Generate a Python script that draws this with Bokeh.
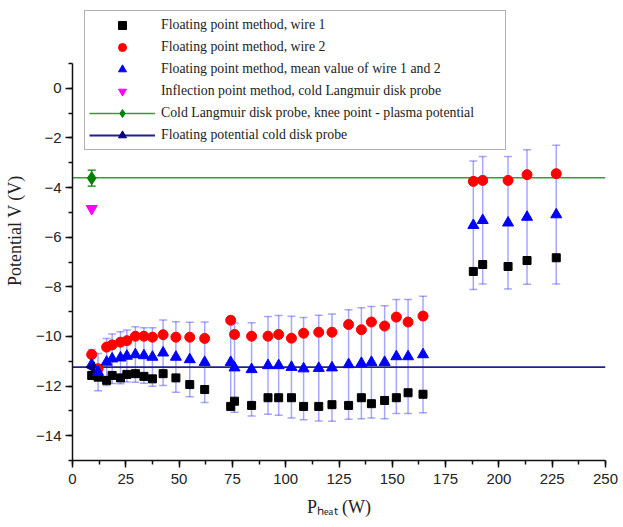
from bokeh.plotting import figure
from bokeh.models import (Legend, LegendItem, Whisker, ColumnDataSource,
                          SingleIntervalTicker, TeeHead, Range1d)
from bokeh.embed import file_html
from bokeh.resources import INLINE
import math

# ---------------- data ----------------
p_heat = [9, 12, 16, 18.6, 22.5, 25.5, 29.5, 33.5, 37.5, 42.5, 48.5, 55, 62,
          74.2, 76, 84, 91.7, 96.7, 102.7, 108.4, 115.5, 121.7, 129.5, 135.5,
          140.2, 146.4, 151.9, 157.4, 164.4,
          188, 192.4, 204.3, 213.2, 226.9]

wire1 = [-11.57, -11.64, -11.77, -11.57, -11.67, -11.53, -11.5, -11.61, -11.71,
         -11.5, -11.67, -11.94, -12.14,
         -12.82, -12.61, -12.78, -12.47, -12.47, -12.47, -12.82, -12.82, -12.75,
         -12.78, -12.47, -12.71, -12.58, -12.47, -12.27, -12.33,
         -7.38, -7.10, -7.18, -6.94, -6.83]

wire2 = [-10.73, -11.3, -10.43, -10.34, -10.23, -10.17, -9.99, -9.99, -10.03,
         -9.93, -10.03, -10.03, -10.08,
         -9.35, -9.92, -9.99, -9.99, -9.92, -10.07, -9.87, -9.83, -9.83, -9.52,
         -9.73, -9.42, -9.58, -9.22, -9.42, -9.18,
         -3.75, -3.71, -3.71, -3.48, -3.44]

mean12 = [-11.13, -11.44, -11.03, -10.9, -10.86, -10.79, -10.73, -10.77, -10.83,
          -10.66, -10.83, -10.93, -11.04,
          -11.04, -11.26, -11.33, -11.17, -11.17, -11.24, -11.3, -11.28, -11.26,
          -11.13, -11.08, -11.04, -11.04, -10.81, -10.81, -10.73,
          -5.52, -5.32, -5.42, -5.19, -5.09]

mean12_err = [0.6, 0.75, 0.95, 1.0, 1.05, 1.05, 1.12, 1.12, 1.18, 1.32, 1.42, 1.5, 1.62,
              1.84, 1.8, 1.88, 1.97, 2.01, 2.05, 2.06, 2.13, 2.16, 2.21, 2.24, 2.25,
              2.28, 2.3, 2.3, 2.35,
              2.59, 2.57, 2.67, 2.71, 2.8]

inflection_x = [9]
inflection_y = [-4.85]

knee_x = [9]
knee_y = [-3.62]
knee_err = [0.32]

float_disk_x = [9]
float_disk_y = [-11.24]

level_x = [0, 250]
plasma_potential = [-3.6, -3.6]
floating_potential = [-11.24, -11.24]

labels = ["Floating point method, wire 1",
          "Floating point method, wire 2",
          "Floating point method, mean value of wire 1 and 2",
          "Inflection point method, cold Langmuir disk probe",
          "Cold Langmuir disk probe, knee point - plasma potential",
          "Floating potential cold disk probe"]

x_title = "P\u2095\u2091\u2090\u209c (W)"
y_title = "Potential V (V)"

# ---------------- figure ----------------
# frame reaches the very top so the legend (which overlaps the area above
# the axis end) is not clipped; the axis itself is bounded to -15..1
p = figure(width=621, height=525, output_backend="svg", toolbar_location=None,
           x_range=Range1d(0, 250), y_range=Range1d(-15, 3.54),
           min_border_left=72, min_border_right=16,
           min_border_top=0, min_border_bottom=65)
p.background_fill_color = "white"
p.border_fill_color = "white"
p.outline_line_color = None
p.grid.visible = False

SERIF = "Liberation Serif"
SANS = "Liberation Sans"

# error bars of the mean series
err_src = ColumnDataSource(dict(
    x=p_heat,
    upper=[m + e for m, e in zip(mean12, mean12_err)],
    lower=[m - e for m, e in zip(mean12, mean12_err)]))
EB = "#0000ff"
wh = Whisker(source=err_src, base="x", upper="upper", lower="lower",
             line_color=EB, line_alpha=0.35, line_width=1.5, level="underlay",
             upper_head=TeeHead(size=8, line_color=EB, line_alpha=0.35, line_width=1.5),
             lower_head=TeeHead(size=8, line_color=EB, line_alpha=0.35, line_width=1.5))
p.add_layout(wh)

knee_src = ColumnDataSource(dict(
    x=knee_x,
    upper=[y + e for y, e in zip(knee_y, knee_err)],
    lower=[y - e for y, e in zip(knee_y, knee_err)]))
wk = Whisker(source=knee_src, base="x", upper="upper", lower="lower",
             line_color="#008000", line_width=1.2, level="underlay",
             upper_head=TeeHead(size=8, line_color="#008000", line_width=1.2),
             lower_head=TeeHead(size=8, line_color="#008000", line_width=1.2))
p.add_layout(wk)

# horizontal levels
l_green = p.line(level_x, plasma_potential, line_color="#3a9a3a", line_width=1.5)
l_navy = p.line(level_x, floating_potential, line_color="#20208f", line_width=1.8)

r_w1 = p.scatter(p_heat, wire1, marker="square", size=8,
                 fill_color="black", line_color="black")
r_w2 = p.scatter(p_heat, wire2, marker="circle", size=10,
                 fill_color="#ff0000", line_color="#ff0000")
r_mean = p.scatter(p_heat, mean12, marker="triangle", size=11,
                   fill_color="#0000ff", line_color="#0000ff")
r_infl = p.scatter(inflection_x, inflection_y, marker="inverted_triangle", size=11,
                   fill_color="#ff00ff", line_color="#ff00ff")
r_knee = p.scatter(knee_x, knee_y, marker="diamond", size=13,
                   fill_color="#008000", line_color="#008000")
r_fl = p.scatter(float_disk_x, float_disk_y, marker="triangle", size=10,
                 angle=math.pi / 2, fill_color="#000080", line_color="#000080")

legend = Legend(items=[
    LegendItem(label=labels[0], renderers=[r_w1]),
    LegendItem(label=labels[1], renderers=[r_w2]),
    LegendItem(label=labels[2], renderers=[r_mean]),
    LegendItem(label=labels[3], renderers=[r_infl]),
    LegendItem(label=labels[4], renderers=[l_green, r_knee]),
    LegendItem(label=labels[5], renderers=[l_navy, r_fl]),
], location=(12, 310))
legend.label_text_font = SERIF
legend.label_text_font_size = "13.8px"
legend.label_text_color = "#222222"
legend.glyph_width = 66
legend.glyph_height = 20
legend.label_height = 20
legend.label_standoff = 6
legend.label_width = 340
legend.spacing = 2
legend.padding = 4
legend.margin = 0
legend.border_line_color = "#666666"
legend.border_line_width = 1.2
legend.background_fill_color = "white"
legend.background_fill_alpha = 1
p.add_layout(legend, "center")

# axes
p.xaxis.ticker = SingleIntervalTicker(interval=25, num_minor_ticks=2)
p.yaxis.ticker = SingleIntervalTicker(interval=2, num_minor_ticks=2)
p.yaxis.bounds = (-15, 1)
for ax in (p.xaxis, p.yaxis):
    ax.axis_line_width = 1.5
    ax.axis_line_color = "#111111"
    ax.major_tick_line_width = 1.5
    ax.minor_tick_line_width = 1.5
    ax.major_tick_line_color = "#111111"
    ax.minor_tick_line_color = "#111111"
    ax.major_tick_in = 0
    ax.major_tick_out = 7
    ax.minor_tick_in = 0
    ax.minor_tick_out = 4
    ax.major_label_text_font = SANS
    ax.major_label_text_font_size = "15px"
    ax.major_label_text_color = "#222222"
    ax.axis_label_text_font = SERIF
    ax.axis_label_text_font_size = "18px"
    ax.axis_label_text_font_style = "normal"
    ax.axis_label_text_color = "#222222"
p.xaxis.major_label_standoff = 6
p.yaxis.major_label_standoff = 4

p.yaxis.axis_label = y_title
p.yaxis.axis_label_standoff = 8
p.xaxis.axis_label = x_title
p.xaxis.axis_label_standoff = 10

open("out.html", "w").write(file_html(p, INLINE))
